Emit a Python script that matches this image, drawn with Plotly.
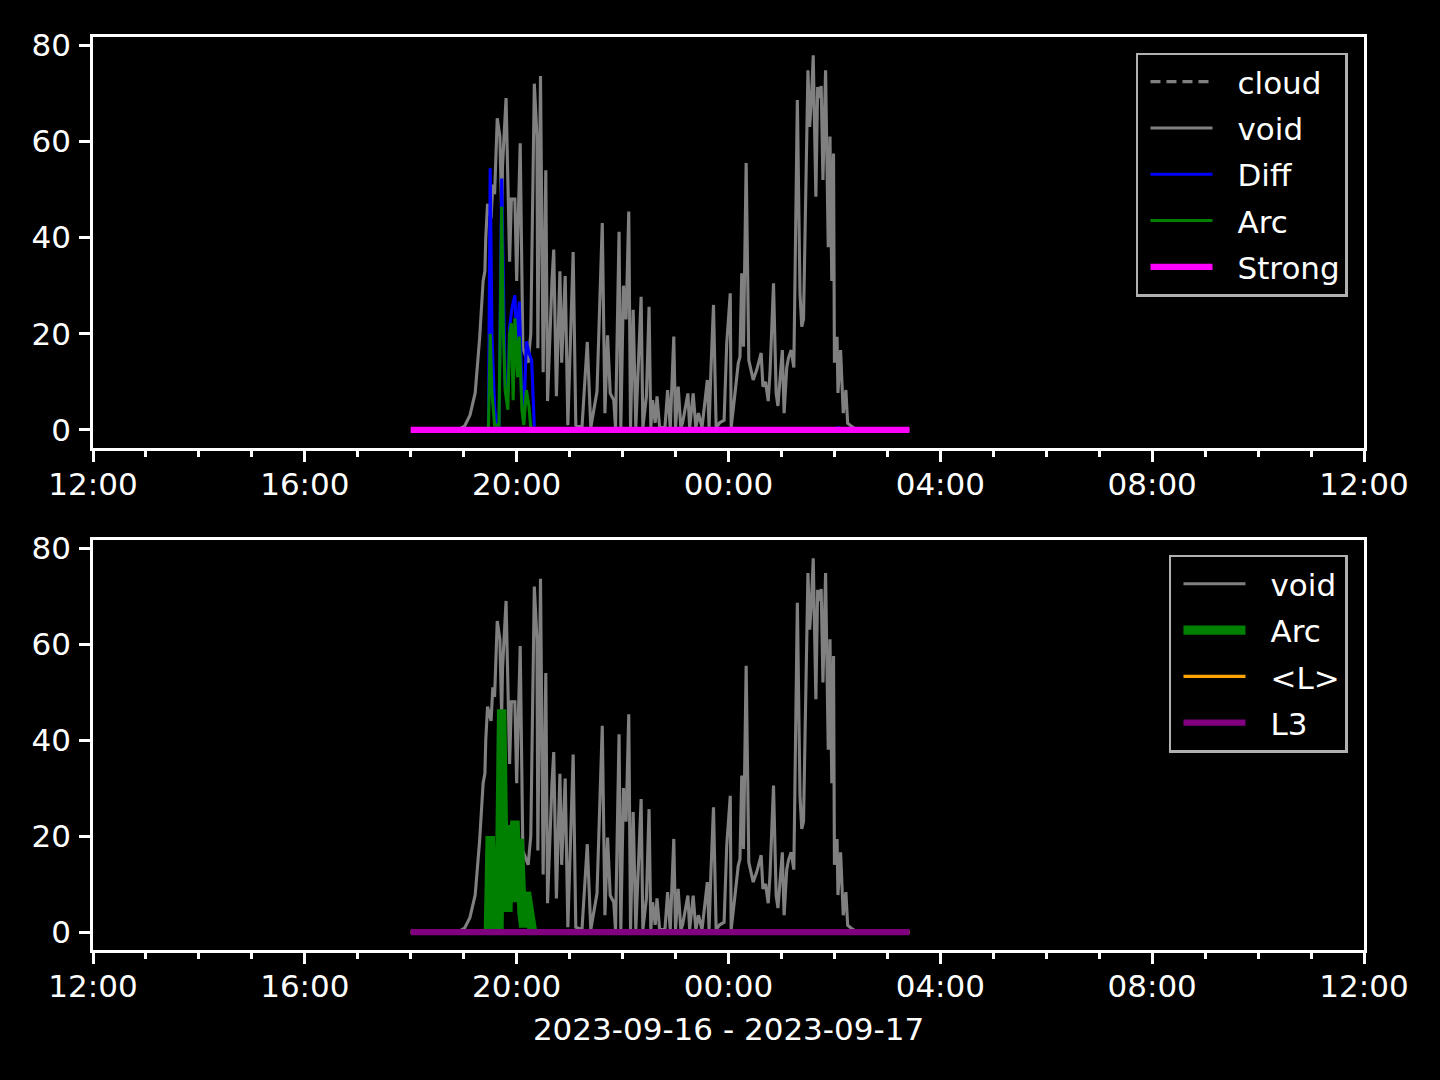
import plotly.graph_objects as go
from plotly.subplots import make_subplots

# ---------------- data ----------------
void_times = ["18:00","18:56","19:01","19:07","19:13","19:18","19:22","19:24","19:25","19:27",
              "19:31","19:33","19:35","19:38","19:41","19:43","19:44","19:48","19:50","19:52",
              "19:54","19:58","20:00","20:04","20:07","20:13","20:16","20:20","20:23","20:24",
              "20:27","20:30","20:33","20:35","20:40","20:42","20:45","20:49","20:51","20:55",
              "20:58","21:04","21:07","21:14","21:20","21:24","21:31","21:37","21:40","21:43",
              "21:46","21:50","21:52","21:56","21:58","22:01","22:04","22:07","22:09","22:12",
              "22:15","22:21","22:23","22:27","22:30","22:32","22:34","22:37","22:39","22:42",
              "22:48","22:51","22:54","22:58","23:00","23:03","23:06","23:08","23:14","23:16",
              "23:20","23:23","23:26","23:30","23:36","23:38","23:40","23:43","23:46","23:50",
              "23:55","23:58","00:02","00:03","00:07","00:11","00:13","00:15","00:17","00:20",
              "00:23","00:28","00:32","00:37","00:39","00:42","00:45","00:47","00:51","00:54",
              "00:56","00:58","01:01","01:03","01:06","01:08","01:11","01:14","01:15","01:18",
              "01:21","01:23","01:25","01:28","01:30","01:32","01:34","01:36","01:39","01:41",
              "01:43","01:45","01:47","01:50","01:53","01:55","01:57","01:59","02:00","02:03",
              "02:04","02:07","02:10","02:13","02:15","02:19","02:23","02:29","03:25"]
void_vals = [0, 0.3, 0.8, 3, 7.7, 19, 31, 33, 40, 47,
             44, 51, 49, 64.8, 61, 45, 55, 69, 52, 35,
             48, 48, 31, 59.6, 17, 14, 20, 72, 61, 17,
             73.6, 12, 54, 6, 31, 37.5, 7, 33, 14, 32,
             1, 37, 1, 0.5, 18.3, 0.5, 8, 43, 3.5, 19.7,
             7.6, 6.2, 0.5, 41.2, 0.5, 30, 23, 45.4, 0.5, 25,
             0.5, 27.7, 0.5, 7, 25.6, 0.5, 6.2, 1.5, 7, 0.5,
             0.5, 8.3, 0.5, 19.4, 0.5, 9, 0.5, 1.5, 7.6, 0.5,
             7.6, 0.5, 3.5, 0.5, 10.4, 0.5, 12, 26, 0.5, 1.5,
             2, 18, 28.4, 0.5, 7, 13.8, 15.2, 32.6, 17.3, 55.5,
             14.5, 10.4, 12.5, 16, 9, 10, 6, 11.8, 30.5, 7.6,
             5, 9, 16.6, 3.5, 13, 15, 16.6, 13, 29.8, 68.6,
             28.4, 21.5, 23, 53, 74.8, 63, 69, 77.9, 48.5, 71.3,
             69, 71.5, 52, 74.8, 38, 61, 31, 57.5, 14, 19.4,
             7.7, 16.6, 3.5, 8.3, 1.4, 0.8, 0.3, 0, 0]

# None marks a gap (no data)
diff_times = ["19:28","19:30","19:32","19:35","19:37","19:40","19:43","19:45","19:47",
              "19:50","19:52","19:55","19:58","20:00","20:03","20:06","20:08","20:11","20:14",
              "20:17","20:20","20:21","02:03","02:04","02:06"]
diff_vals = [0, 54.4, 20, 4.8, 1, 1, 52.3, 28.4, 9,
             8, 21.5, 25.6, 28, 18, 26.7, 8, 2, 18.4, 16,
             14.5, 0.7, None, 0, 0.6, 0]

arc_times = ["19:28","19:30","19:32","19:35","19:40","19:43","19:45","19:47","19:50",
             "19:52","19:54","19:56","19:58","20:01","20:03","20:06","20:08","20:11","20:14",
             "20:16","20:18"]
arc_vals = [0, 20, 7.7, 1, 1, 46.4, 20, 8.3, 4.2,
            20, 22.2, 6.2, 23.2, 11, 19.4, 4.2, 1, 8.3, 4.8,
            0.5, 0]

level_times = ["18:00", "03:25"]
strong_vals = [0, 0]
meanl_vals = [0, 0]
l3_vals = [0, 0]
cloud_vals = [None, None]

x_range = ["2023-09-16 12:00", "2023-09-17 12:00"]
x_title = "2023-09-16 - 2023-09-17"


def stamp(hhmm):
    day = "2023-09-17" if int(hhmm[:2]) < 12 else "2023-09-16"
    return f"{day} {hhmm}"


vt = [stamp(t) for t in void_times]
dt = [stamp(t) for t in diff_times]
at = [stamp(t) for t in arc_times]
lt = [stamp(t) for t in level_times]

# ---------------- figure ----------------
FONT = "DejaVu Sans"
FS = 31
LW = 3.1

fig = make_subplots(rows=2, cols=1, vertical_spacing=0.1)

# top panel
fig.add_trace(go.Scatter(x=lt, y=cloud_vals, mode="lines", name="cloud",
                         line=dict(color="gray", width=LW, dash="10px,6px"),
                         legend="legend", legendgroup="c"), row=1, col=1)
fig.add_trace(go.Scatter(x=vt, y=void_vals, mode="lines", name="void",
                         line=dict(color="gray", width=LW),
                         legend="legend", legendgroup="v"), row=1, col=1)
fig.add_trace(go.Scatter(x=dt, y=diff_vals, mode="lines", name="Diff",
                         line=dict(color="blue", width=LW), connectgaps=False,
                         legend="legend", legendgroup="d"), row=1, col=1)
fig.add_trace(go.Scatter(x=at, y=arc_vals, mode="lines", name="Arc",
                         line=dict(color="green", width=LW),
                         legend="legend", legendgroup="a"), row=1, col=1)
fig.add_trace(go.Scatter(x=lt, y=strong_vals, mode="lines", name="Strong",
                         line=dict(color="magenta", width=6.25),
                         legend="legend", legendgroup="s"), row=1, col=1)

# bottom panel
fig.add_trace(go.Scatter(x=vt, y=void_vals, mode="lines", name="void",
                         line=dict(color="gray", width=LW),
                         legend="legend2", legendgroup="v2"), row=2, col=1)
fig.add_trace(go.Scatter(x=at, y=arc_vals, mode="lines", name="Arc",
                         line=dict(color="green", width=9.4),
                         legend="legend2", legendgroup="a2"), row=2, col=1)
fig.add_trace(go.Scatter(x=lt, y=meanl_vals, mode="lines", name="<L>",
                         line=dict(color="orange", width=LW),
                         legend="legend2", legendgroup="l2"), row=2, col=1)
fig.add_trace(go.Scatter(x=lt, y=l3_vals, mode="lines", name="L3",
                         line=dict(color="purple", width=6.25),
                         legend="legend2", legendgroup="l32"), row=2, col=1)

top_dom = [(950 - 448) / 913, 1.0]
bot_dom = [0.0, (950 - 540) / 913]

axis_common = dict(showgrid=False, zeroline=False, showline=True, linecolor="white",
                   linewidth=2.5, mirror=True, ticks="outside", tickcolor="white",
                   tickwidth=2.5, ticklen=11,
                   tickfont=dict(family=FONT, size=FS, color="white"))

for r, dom in ((1, top_dom), (2, bot_dom)):
    xa = dict(axis_common)
    xa.update(type="date", range=x_range, dtick=4 * 3600000, tick0="2023-09-16 00:00",
              tickformat="%H:%M", ticklabelstandoff=-4,
              minor=dict(dtick=3600000, ticks="outside", ticklen=6, tickwidth=2.5,
                         tickcolor="white", showgrid=False))
    ya = dict(axis_common)
    ya.update(range=[-3.75, 81.7], tickvals=[0, 20, 40, 60, 80], domain=dom,
              ticklabelstandoff=2)
    fig.update_xaxes(row=r, col=1, **xa)
    fig.update_yaxes(row=r, col=1, **ya)

fig.update_xaxes(row=2, col=1, title=dict(text=x_title, font=dict(family=FONT, size=FS, color="white"),
                                           standoff=16))

legend_common = dict(bgcolor="black", bordercolor="#b0b0b0", borderwidth=2.5,
                     font=dict(family=FONT, size=FS, color="white"),
                     xanchor="right", yanchor="top", traceorder="grouped",
                     tracegroupgap=3, itemwidth=89)

fig.update_layout(
    width=1440, height=1080,
    paper_bgcolor="black", plot_bgcolor="black",
    font=dict(family=FONT, size=FS, color="white"),
    margin=dict(l=93, r=76, t=37, b=130),
    showlegend=True,
    legend=dict(legend_common, x=0.9874, y=0.983),
    legend2=dict(legend_common, x=0.9874, y=0.433),
)

post = """
document.body.style.margin = '0';
document.body.style.background = 'black';
var gd = document.getElementById('{plot_id}');
gd.querySelectorAll('.legendlines path').forEach(function(p){ p.setAttribute('d', 'M12,0h62'); });
"""

fig.write_html("out.html", post_script=post, config={"displayModeBar": False})
